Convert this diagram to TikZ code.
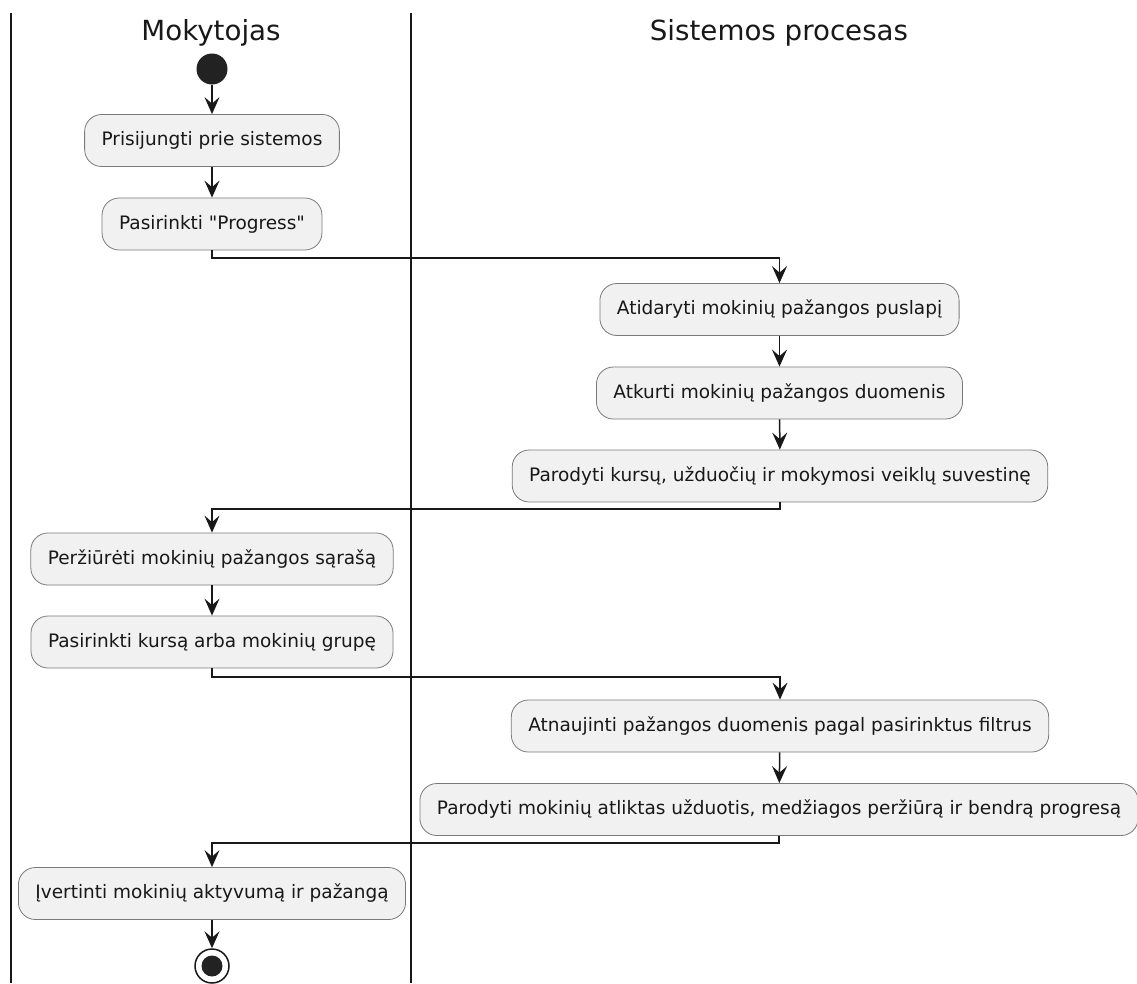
\documentclass[tikz,border=0pt]{standalone}
\usepackage{fontspec}
\setmainfont{DejaVu Sans}[Ligatures=TeXOff]
\usetikzlibrary{arrows.meta}
\definecolor{boxfill}{HTML}{F1F1F1}
\definecolor{boxline}{HTML}{7A7A7A}
\definecolor{ink}{HTML}{181818}
\definecolor{dot}{HTML}{222222}
\begin{document}
\begin{tikzpicture}[x=1pt, y=-1pt,
  act/.style={draw=boxline, line width=0.8pt, fill=boxfill, rounded corners=17pt,
    minimum height=52pt, inner xsep=17pt, font=\fontsize{18.5}{22}\selectfont, text=ink},
  flow/.style={draw=ink, line width=1.5pt,
    -{Stealth[length=17pt, width=15pt, inset=6.5pt]}},
  lane/.style={draw=ink, line width=2pt},
  lanetitle/.style={font=\fontsize{27.7}{32}\selectfont, text=ink, anchor=base}]
\useasboundingbox (0,0) rectangle (1137,983);

% swimlane separators
\draw[lane] (11,13) -- (11,983);
\draw[lane] (411,13) -- (411,983);
\node[lanetitle] (t1) at (211,40) {Mokytojas};
\node[lanetitle] (t2) at (779,40) {Sistemos procesas};

% start and end markers
\node[circle, fill=dot, minimum size=31pt, inner sep=0pt] (start) at (212,69) {};
\node[circle, draw=ink, line width=1.5pt, fill=white, minimum size=34pt, inner sep=0pt] (stop) at (212,966) {};
\node[circle, fill=dot, minimum size=21pt, inner sep=0pt] (stopdot) at (212,966) {};

% activities
\node[act] (b1) at (212,140.5) {Prisijungti prie sistemos};
\node[act] (b2) at (212,224) {Pasirinkti "Progress"};
\node[act] (b3) at (779.5,309.5) {Atidaryti mokinių pažangos puslapį};
\node[act] (b4) at (779.5,393) {Atkurti mokinių pažangos duomenis};
\node[act] (b5) at (780,476) {Parodyti kursų, užduočių ir mokymosi veiklų suvestinę};
\node[act] (b6) at (212,559) {Peržiūrėti mokinių pažangos sąrašą};
\node[act] (b7) at (212,642) {Pasirinkti kursą arba mokinių grupę};
\node[act] (b8) at (780,726) {Atnaujinti pažangos duomenis pagal pasirinktus filtrus};
\node[act] (b9) at (779,809.5) {Parodyti mokinių atliktas užduotis, medžiagos peržiūrą ir bendrą progresą};
\node[act] (b10) at (212,893.5) {Įvertinti mokinių aktyvumą ir pažangą};

% bend points of the lane-crossing connectors
\coordinate (j1) at (212,258);
\coordinate (j2) at (780,509);
\coordinate (j3) at (212,677);
\coordinate (j4) at (779,843);

% connectors
\draw[flow] (start) -- (b1);
\draw[flow] (b1) -- (b2);
\draw[flow] (b2.south) -- (j1) -| (b3.north);
\draw[flow] (b3) -- (b4);
\draw[flow] (b4) -- (b5);
\draw[flow] (b5.south) -- (j2) -| (b6.north);
\draw[flow] (b6) -- (b7);
\draw[flow] (b7.south) -- (j3) -| (b8.north);
\draw[flow] (b8) -- (b9);
\draw[flow] (b9.south) -- (j4) -| (b10.north);
\draw[flow] (b10) -- (stop);
\end{tikzpicture}
\end{document}
